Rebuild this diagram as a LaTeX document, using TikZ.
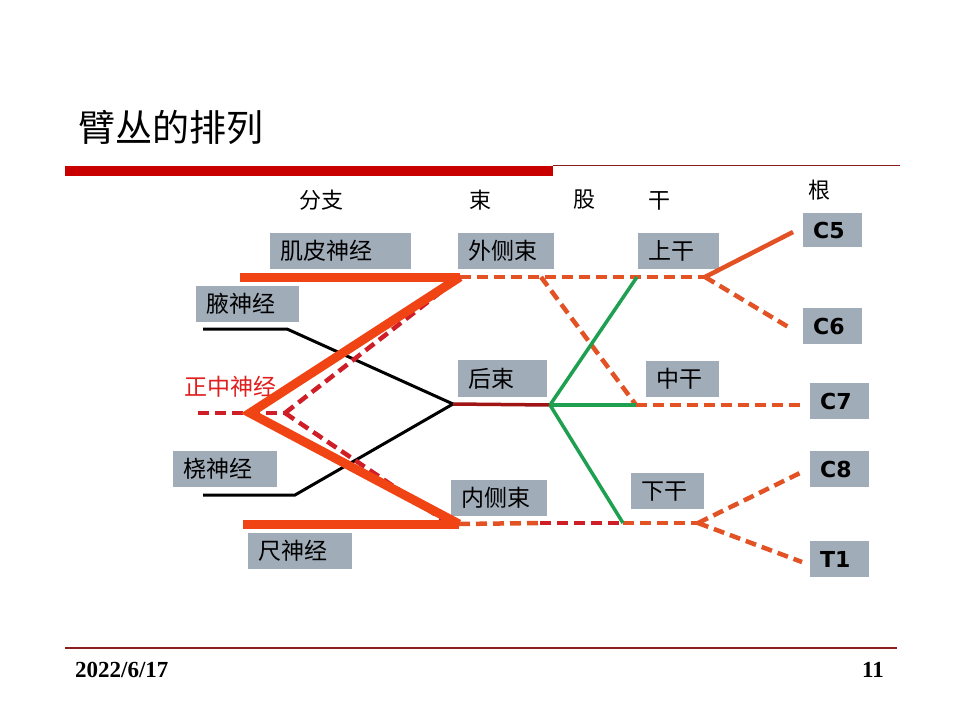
\documentclass[tikz,border=0pt]{standalone}
\usepackage{fontspec}
\newfontfamily\cjk{Noto Sans CJK SC}
\newfontfamily\latinb{DejaVu Sans}
\newfontfamily\dateft{Liberation Serif}
\definecolor{boxgray}{RGB}{161,172,185}
\definecolor{thickor}{RGB}{240,68,20}
\definecolor{dashor}{RGB}{226,82,36}
\definecolor{crim}{RGB}{208,30,40}
\definecolor{nred}{RGB}{225,30,30}
\definecolor{grn}{RGB}{30,160,80}
\definecolor{dred}{RGB}{160,20,20}
\definecolor{barred}{RGB}{200,0,0}
\definecolor{rulered}{RGB}{140,30,30}
\begin{document}
\begin{tikzpicture}[x=1pt,y=-1pt,
  box/.style={fill=boxgray, anchor=north west, inner xsep=10pt, inner ysep=0pt, align=left,
    font=\cjk\fontsize{23}{23}\selectfont},
  cbox/.style={box, font=\latinb\bfseries\fontsize{22}{22}\selectfont},
  head/.style={font=\cjk\fontsize{22}{22}\selectfont},
  thick line/.style={line width=9pt, draw=thickor},
  dline/.style={line width=4.5pt, draw=dashor, dash pattern=on 11pt off 6pt},
  cline/.style={line width=4.5pt, draw=crim, dash pattern=on 11pt off 6pt},
  blk/.style={line width=3pt, draw=black},
  gline/.style={line width=3.5pt, draw=grn},
]
\useasboundingbox (0,0) rectangle (960,720);
\fill[white] (0,0) rectangle (960,720);

% title and rules
\node[anchor=west, font=\cjk\fontsize{37}{37}\selectfont, inner sep=0pt] (title) at (78,127) {臂丛的排列};
\fill[barred] (65,166) rectangle (553,176);
\draw[rulered, line width=1.2pt] (553,165.5) -- (900,165.5);
\draw[rulered, line width=1.2pt] (65,648) -- (897,648);
\node[anchor=west, inner sep=0pt, font=\dateft\bfseries\fontsize{23}{23}\selectfont] (date) at (75,670) {2022/6/17};
\node[anchor=east, inner sep=0pt, font=\dateft\bfseries\fontsize{23}{23}\selectfont] (page) at (884,670) {11};

% column heads
\node[head] (h1) at (321,200) {分支};
\node[head] (h2) at (480,200) {束};
\node[head] (h3) at (584,200) {股};
\node[head] (h4) at (659,201) {干};
\node[head] (h5) at (819,190) {根};

% boxes
\node[box, text width=121pt, minimum height=36pt] (mcn) at (270,233) {肌皮神经};
\node[box, text width=83pt, minimum height=36pt] (ax) at (196,286) {腋神经};
\node[box, text width=76pt, minimum height=36pt] (lat) at (458,233) {外侧束};
\node[box, text width=61pt, minimum height=36pt] (sup) at (638,233) {上干};
\node[box, text width=69pt, minimum height=37pt] (post) at (458,360) {后束};
\node[box, text width=53pt, minimum height=36pt] (mid) at (646,361) {中干};
\node[box, text width=84pt, minimum height=36pt] (rad) at (173,451) {桡神经};
\node[box, text width=84pt, minimum height=36pt] (uln) at (248,533) {尺神经};
\node[box, text width=76pt, minimum height=36pt] (med) at (451,480) {内侧束};
\node[box, text width=53pt, minimum height=36pt] (inf) at (631,473) {下干};
\node[cbox, text width=39pt, minimum height=34pt] (c5) at (803,213) {C5};
\node[cbox, text width=39pt, minimum height=36pt] (c6) at (803,308) {C6};
\node[cbox, text width=39pt, minimum height=36pt] (c7) at (810,383) {C7};
\node[cbox, text width=39pt, minimum height=36pt] (c8) at (810,451) {C8};
\node[cbox, text width=39pt, minimum height=36pt] (t1) at (810,541) {T1};
\node[anchor=west, inner sep=0pt, text=nred, font=\cjk\fontsize{23}{23}\selectfont] (mn) at (184,387) {正中神经};

% junction coordinates
\coordinate (latj) at (460,277);
\coordinate (latend) at (240,277);
\coordinate (apex) at (250,413);
\coordinate (medj) at (459,524);
\coordinate (medend) at (243,524);
\coordinate (mnj) at (285,413);
\coordinate (mnend) at (198,413);
\coordinate (mnlow) at (445,521);
\coordinate (axa) at (203,329);
\coordinate (axb) at (287,329);
\coordinate (rda) at (203,495);
\coordinate (rdb) at (295,495);
\coordinate (postj) at (453,404);
\coordinate (gj) at (550,405);
\coordinate (upj) at (637,277);
\coordinate (midj) at (636,405);
\coordinate (lowj) at (623,523);
\coordinate (ldiag) at (541,277);
\coordinate (upsplit) at (705,277);
\coordinate (lowsplit) at (698,523);
\coordinate (medmix) at (540,523);
\coordinate (c5e) at (793,232);
\coordinate (c6e) at (790,328);
\coordinate (c7e) at (802,405);
\coordinate (c8e) at (800,473);
\coordinate (t1e) at (802,562);

% black (axillary, radial)
\draw[blk] (axa) -- (axb) -- (postj) -- (rdb) -- (rda);
% posterior cord
\draw[line width=3.5pt, dred] (postj) -- (gj);

% median contributions (dashed crimson)
\draw[cline] (mnend) -- (mnj);
\draw[cline] (mnj) -- (latj);
\draw[cline] (mnj) -- (mnlow);

% orange dashed trunks/divisions
\draw[dline] (latj) -- (upsplit);
\draw[dline] (ldiag) -- (midj);
\draw[dline] (midj) -- (c7e);
\draw[dline] (upsplit) -- (c6e);
\draw[line width=4.5pt, dashor] (upsplit) -- (c5e);
\draw[dline] (medj) -- (medmix);
\draw[cline] (medmix) -- (lowj);
\draw[dline] (lowj) -- (lowsplit);
\draw[dline] (lowsplit) -- (c8e);
\draw[dline] (lowsplit) -- (t1e);

% green divisions
\draw[gline] (gj) -- (upj);
\draw[gline] (gj) -- (midj);
\draw[gline] (gj) -- (lowj);

% thick nerves
\draw[thick line] (latend) -- (latj);
\draw[thick line] (medend) -- (medj);
\draw[thick line, line join=miter] (latj) -- (apex) -- (medj);
\end{tikzpicture}
\end{document}
